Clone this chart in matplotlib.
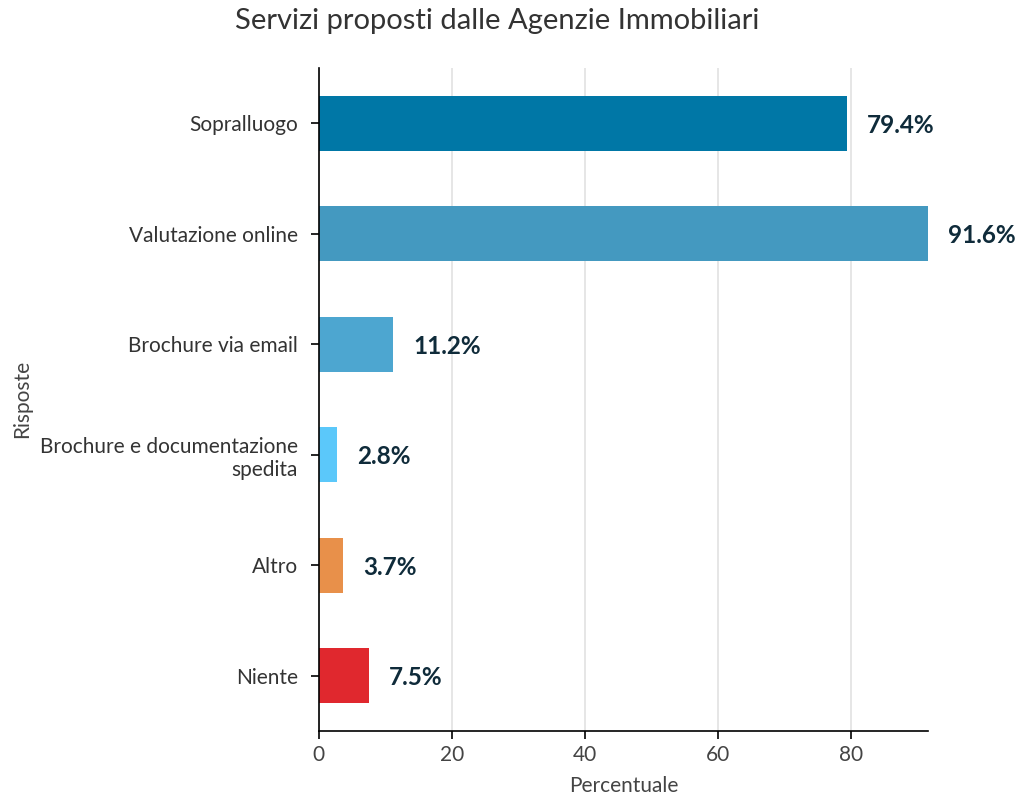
import matplotlib
matplotlib.use("Agg")
from matplotlib import pyplot as plt

plt.rcParams['font.family'] = ['Lato', 'DejaVu Sans']

categorie = ['Sopralluogo', 'Valutazione online', 'Brochure via email',
             'Brochure e documentazione\nspedita', 'Altro', 'Niente']
percentuali = [79.4, 91.6, 11.2, 2.8, 3.7, 7.5]
colori = ['#0077a6', '#4499c0', '#4da6d0', '#5bc8fa', '#e8904a', '#e0282e']

fig = plt.figure(figsize=(10.22, 7.96), dpi=100)
ax = fig.add_axes([0.312, 0.0817, 0.596, 0.833])

y = range(len(categorie))
ax.barh(y, percentuali, height=0.5, color=colori, zorder=2)
for i, v in zip(y, percentuali):
    ax.text(v + 3, i + 0.02, '{:.1f}%'.format(v), va='center', ha='left',
            fontsize=17.5, fontweight='bold', color='#0f2b3a')

ax.set_ylim(len(categorie) - 0.5, -0.5)
ax.set_xlim(0, max(percentuali))
ax.set_yticks(list(y))
ax.set_yticklabels(categorie, fontsize=15, color='#333333', ha='right')
ax.set_xticks([0, 20, 40, 60, 80])
ax.tick_params(axis='x', labelsize=15, labelcolor='#444444', length=6, width=1.2, pad=4)
ax.tick_params(axis='y', length=6, width=1.2, pad=9)
ax.xaxis.grid(True, color='#e2e2e2', linewidth=1.2, zorder=0)
ax.set_axisbelow(True)
for s in ['top', 'right']:
    ax.spines[s].set_visible(False)
for s in ['left', 'bottom']:
    ax.spines[s].set_linewidth(1.2)

ax.set_xlabel('Percentuale', fontsize=15, color='#444444', labelpad=8)
ax.set_ylabel('Risposte', fontsize=15, color='#444444', labelpad=6)
fig.suptitle('Servizi proposti dalle Agenzie Immobiliari', fontsize=21,
             color='#333333', x=0.486, y=0.99)

plt.savefig('out.png')
